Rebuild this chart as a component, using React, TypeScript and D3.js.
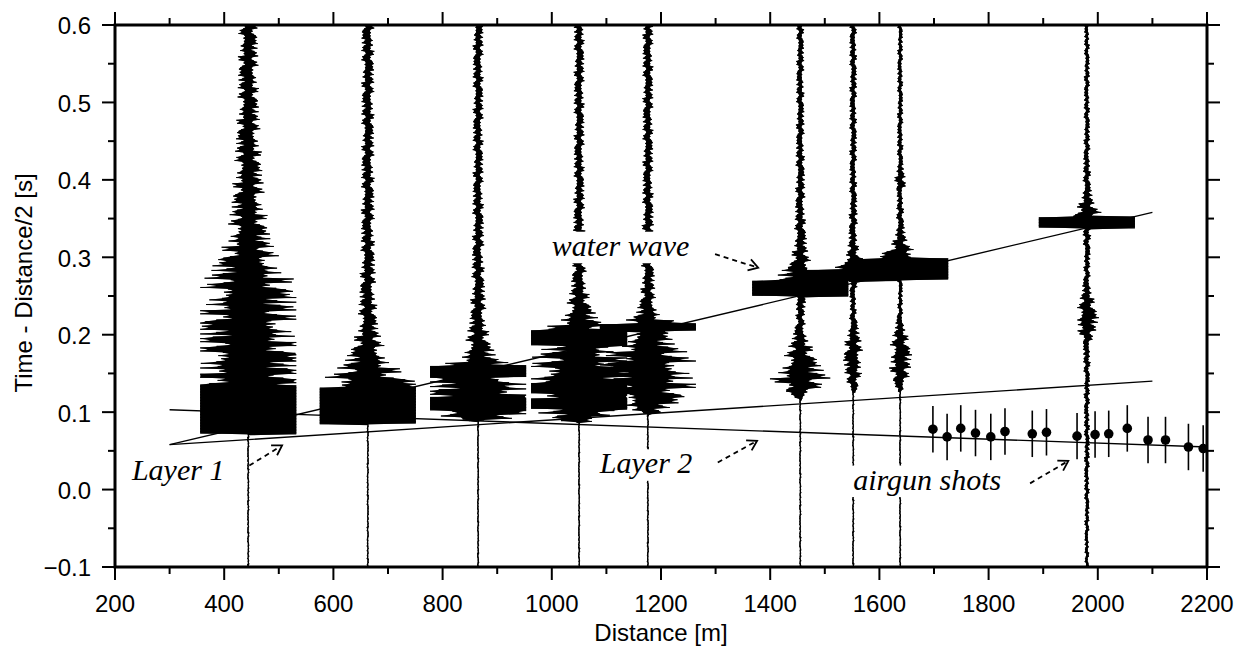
import React, { useLayoutEffect, useRef, useState } from "react";
import * as d3 from "d3";

const W = 1246;
const H = 653;
const M = { left: 115, right: 1207, top: 25, bottom: 567 };

// Axes
const X_DOMAIN = [200, 2200];
const Y_DOMAIN = [-0.1, 0.6];
const X_MAJOR = [200, 400, 600, 800, 1000, 1200, 1400, 1600, 1800, 2000, 2200];
const X_MINOR = [300, 500, 700, 900, 1100, 1300, 1500, 1700, 1900, 2100];
const Y_MAJOR = [-0.1, 0.0, 0.1, 0.2, 0.3, 0.4, 0.5, 0.6];
const Y_MINOR = [-0.05, 0.05, 0.15, 0.25, 0.35, 0.45, 0.55];
const X_TITLE = "Distance [m]";
const Y_TITLE = "Time - Distance/2 [s]";

// Receiver offsets (m) of the plotted seismograms
const traceDistances = [444, 663, 865, 1050, 1176, 1455, 1552, 1638, 1980];

// Amplitude envelopes: [reduced time (s), half amplitude (m)]
const trace444 = [[0.6, 18], [0.5, 20], [0.42, 26], [0.37, 32], [0.34, 38], [0.31, 50], [0.29, 68], [0.27, 85], [0.25, 95], [0.21, 105], [0.17, 115], [0.14, 125], [0.1345, 125], [0.134, 400], [0.072, 400], [0.0712, 2], [-0.1, 2]];
const trace663 = [[0.6, 12], [0.45, 12], [0.32, 13], [0.25, 16], [0.21, 20], [0.19, 28], [0.17, 42], [0.155, 60], [0.145, 80], [0.136, 110], [0.1325, 110], [0.132, 400], [0.085, 400], [0.0845, 2], [-0.1, 2]];
const trace865 = [[0.6, 10], [0.4, 10], [0.28, 12], [0.22, 16], [0.19, 24], [0.17, 38], [0.163, 60], [0.1605, 60], [0.16, 400], [0.145, 400], [0.1445, 70], [0.137, 120], [0.121, 120], [0.1195, 120], [0.119, 400], [0.102, 400], [0.1015, 110], [0.096, 100], [0.091, 60], [0.088, 2], [-0.1, 2]];
const trace1050 = [[0.6, 10], [0.4, 10], [0.3, 12], [0.26, 16], [0.235, 25], [0.22, 40], [0.21, 60], [0.2065, 60], [0.206, 400], [0.186, 400], [0.1855, 70], [0.17, 90], [0.155, 110], [0.143, 130], [0.1385, 130], [0.138, 400], [0.124, 400], [0.1235, 130], [0.1175, 130], [0.117, 400], [0.104, 400], [0.1035, 90], [0.098, 80], [0.09, 45], [0.086, 2], [-0.1, 2]];
const trace1176 = [[0.6, 10], [0.4, 10], [0.3, 12], [0.25, 14], [0.23, 22], [0.22, 35], [0.216, 60], [0.2145, 60], [0.214, 400], [0.205, 400], [0.2045, 40], [0.19, 50], [0.175, 80], [0.16, 100], [0.14, 105], [0.125, 85], [0.11, 55], [0.1, 28], [0.097, 2], [-0.1, 2]];
const trace1455 = [[0.6, 7], [0.45, 8], [0.35, 10], [0.31, 14], [0.29, 22], [0.278, 45], [0.2705, 45], [0.27, 400], [0.25, 400], [0.2495, 12], [0.22, 8], [0.2, 14], [0.18, 25], [0.16, 40], [0.145, 58], [0.135, 45], [0.125, 25], [0.118, 8], [0.115, 2], [-0.1, 2]];
const trace1552 = [[0.6, 7], [0.4, 7], [0.32, 9], [0.3, 14], [0.29, 45], [0.2835, 45], [0.283, 400], [0.27, 400], [0.2695, 8], [0.23, 6], [0.21, 10], [0.19, 16], [0.17, 20], [0.15, 16], [0.13, 9], [0.124, 2], [-0.1, 2]];
const trace1638 = [[0.6, 5], [0.42, 6], [0.395, 12], [0.385, 6], [0.34, 8], [0.32, 14], [0.31, 25], [0.302, 45], [0.2985, 45], [0.298, 400], [0.272, 400], [0.2715, 5], [0.23, 5], [0.21, 10], [0.19, 18], [0.175, 23], [0.16, 21], [0.145, 17], [0.13, 8], [0.125, 2], [-0.1, 2]];
const trace1980 = [[0.6, 5], [0.45, 6], [0.39, 8], [0.37, 14], [0.357, 28], [0.3525, 28], [0.352, 400], [0.338, 400], [0.3375, 8], [0.28, 6], [0.255, 10], [0.235, 18], [0.22, 24], [0.205, 17], [0.19, 8], [0.15, 6], [0.0, 5], [-0.1, 4]];
const traceEnvelopes = [trace444, trace663, trace865, trace1050, trace1176, trace1455, trace1552, trace1638, trace1980];

// Airgun shot picks with uncertainty
const shotDistances = [1698, 1724, 1749, 1776, 1804, 1830, 1880, 1906, 1962, 1995, 2020, 2054, 2092, 2124, 2166, 2193];
const shotTimes = [0.078, 0.068, 0.079, 0.073, 0.068, 0.075, 0.072, 0.074, 0.069, 0.071, 0.072, 0.079, 0.064, 0.064, 0.055, 0.053];
const shotErrors = [0.03, 0.03, 0.03, 0.03, 0.03, 0.03, 0.03, 0.03, 0.03, 0.03, 0.03, 0.03, 0.03, 0.03, 0.03, 0.03];

// Travel-time fits: [distance (m), reduced time (s)]
const waterWaveLine = [[300, 0.058], [2100, 0.358]];
const layer1Line = [[300, 0.058], [2100, 0.14]];
const layer2Line = [[300, 0.103], [2200, 0.055]];

// Annotations
const labelTexts = ["Layer 1", "water wave", "Layer 2", "airgun shots"];
const labelAt = [[231, 0.012], [1000, 0.302], [1088, 0.021], [1552, 0.0]];
const arrowFrom = [[446, 0.031], [1299, 0.304], [1304, 0.035], [1876, 0.008]];
const arrowTo = [[506, 0.057], [1378, 0.2865], [1376, 0.063], [1946, 0.037]];

// Wiggle rendering settings
const CLIP = 88; // clipping half-width of a trace, m
const DT = 0.001;
const TEX = [1.0, 0.38, 0.71, 0.29, 0.93, 0.52, 0.34, 0.86, 0.45, 0.66, 0.28, 0.98, 0.57, 0.41, 0.76, 0.31, 0.89, 0.48, 0.62, 0.3, 0.81, 0.43, 0.69, 0.36, 0.95, 0.5, 0.33, 0.74, 0.55, 0.4, 0.91, 0.47, 0.27, 0.79, 0.6, 0.35, 0.84, 0.44, 0.64, 0.32, 0.97];

const SANS = "'Liberation Sans', Arial, Helvetica, sans-serif";
const SERIF = "'Liberation Serif', 'Times New Roman', Times, serif";
const LABEL_SIZE = 30;

const x = d3.scaleLinear().domain(X_DOMAIN).range([M.left, M.right]);
const y = d3.scaleLinear().domain(Y_DOMAIN).range([M.bottom, M.top]);
const line = d3.line<number[]>().x((d) => d[0]).y((d) => d[1]);

// Zig-zag samples of a clipped trace; returns the outline (filled) and the wiggle itself.
function wiggle(center: number, env: number[][], offset: number) {
  const sorted = env.slice().sort((a, b) => a[0] - b[0]);
  const amp = d3
    .scaleLinear()
    .domain(sorted.map((p) => p[0]))
    .range(sorted.map((p) => p[1]))
    .clamp(true);
  const n = Math.round((Y_DOMAIN[1] - Y_DOMAIN[0]) / DT);
  const zig: number[][] = [];
  const right: number[][] = [];
  const left: number[][] = [];
  for (let i = 0; i <= n; i++) {
    const t = Y_DOMAIN[1] - i * DT;
    const a = Math.min(CLIP, amp(t) * TEX[(i + offset) % TEX.length]);
    const s = i % 2 === 0 ? 1 : -1;
    const p = [x(center + s * a), y(t)];
    zig.push(p);
    if (s > 0) right.push(p);
    else left.push(p);
  }
  const outline = right.concat(left.reverse());
  return { fill: (line(outline) || "") + "Z", stroke: line(zig) || "" };
}

function Label({ text, at }: { text: string; at: number[] }) {
  const ref = useRef<SVGTextElement>(null);
  const [w, setW] = useState(0);
  useLayoutEffect(() => {
    if (ref.current) setW(ref.current.getBBox().width);
  }, [text]);
  const px = x(at[0]);
  const py = y(at[1]);
  return (
    <g>
      {w > 0 && (
        <rect x={px - 4} y={py - LABEL_SIZE * 0.8} width={w + 8} height={LABEL_SIZE * 1.05} fill="white" />
      )}
      <text ref={ref} x={px} y={py} fontFamily={SERIF} fontStyle="italic" fontSize={LABEL_SIZE} fill="black">
        {text}
      </text>
    </g>
  );
}

function Arrow({ from, to }: { from: number[]; to: number[] }) {
  const x0 = x(from[0]);
  const y0 = y(from[1]);
  const x1 = x(to[0]);
  const y1 = y(to[1]);
  const ang = Math.atan2(y1 - y0, x1 - x0);
  const len = 11;
  const spread = 0.55;
  const a1 = [x1 - len * Math.cos(ang - spread), y1 - len * Math.sin(ang - spread)];
  const a2 = [x1 - len * Math.cos(ang + spread), y1 - len * Math.sin(ang + spread)];
  return (
    <g stroke="black" strokeWidth={1.8} fill="none">
      <line x1={x0} y1={y0} x2={x1 - 3 * Math.cos(ang)} y2={y1 - 3 * Math.sin(ang)} strokeDasharray="5 4" />
      <polyline points={`${a1[0]},${a1[1]} ${x1},${y1} ${a2[0]},${a2[1]}`} />
    </g>
  );
}

export default function App() {
  const fits = [waterWaveLine, layer1Line, layer2Line];
  const traces = traceDistances.map((d, i) => wiggle(d, traceEnvelopes[i], i * 7));
  return (
    <svg width={W} height={H} style={{ position: "absolute", left: 0, top: 0, background: "white" }}>
      <defs>
        <clipPath id="plot-area">
          <rect x={M.left} y={M.top} width={M.right - M.left} height={M.bottom - M.top} />
        </clipPath>
      </defs>
      <rect x={0} y={0} width={W} height={H} fill="white" />

      <g clipPath="url(#plot-area)">
        {traces.map((tr, i) => (
          <g key={traceDistances[i]}>
            <path d={tr.fill} fill="black" stroke="none" />
            <path d={tr.stroke} fill="none" stroke="black" strokeWidth={0.9} />
          </g>
        ))}

        {labelTexts.map((t, i) => (
          <Label key={t} text={t} at={labelAt[i]} />
        ))}
        {labelTexts.map((t, i) => (
          <Arrow key={t} from={arrowFrom[i]} to={arrowTo[i]} />
        ))}

        {fits.map((f, i) => (
          <path
            key={i}
            d={line(f.map((p) => [x(p[0]), y(p[1])])) || ""}
            fill="none"
            stroke="black"
            strokeWidth={1.4}
          />
        ))}

        {shotDistances.map((d, i) => (
          <g key={d}>
            <line
              x1={x(d)}
              x2={x(d)}
              y1={y(shotTimes[i] - shotErrors[i])}
              y2={y(shotTimes[i] + shotErrors[i])}
              stroke="black"
              strokeWidth={1.6}
            />
            <circle cx={x(d)} cy={y(shotTimes[i])} r={4.8} fill="black" />
          </g>
        ))}
      </g>

      {/* ticks, outward on all four sides */}
      <g stroke="black" strokeWidth={2}>
        {X_MAJOR.map((v) => (
          <g key={"xM" + v}>
            <line x1={x(v)} x2={x(v)} y1={M.bottom} y2={M.bottom + 13} />
            <line x1={x(v)} x2={x(v)} y1={M.top} y2={M.top - 13} />
          </g>
        ))}
        {X_MINOR.map((v) => (
          <g key={"xm" + v}>
            <line x1={x(v)} x2={x(v)} y1={M.bottom} y2={M.bottom + 7} />
            <line x1={x(v)} x2={x(v)} y1={M.top} y2={M.top - 7} />
          </g>
        ))}
        {Y_MAJOR.map((v) => (
          <g key={"yM" + v}>
            <line x1={M.left} x2={M.left - 13} y1={y(v)} y2={y(v)} />
            <line x1={M.right} x2={M.right + 13} y1={y(v)} y2={y(v)} />
          </g>
        ))}
        {Y_MINOR.map((v) => (
          <g key={"ym" + v}>
            <line x1={M.left} x2={M.left - 7} y1={y(v)} y2={y(v)} />
            <line x1={M.right} x2={M.right + 7} y1={y(v)} y2={y(v)} />
          </g>
        ))}
      </g>

      <rect
        x={M.left}
        y={M.top}
        width={M.right - M.left}
        height={M.bottom - M.top}
        fill="none"
        stroke="black"
        strokeWidth={3}
      />

      <g fontFamily={SANS} fontSize={24} fill="black">
        {X_MAJOR.map((v) => (
          <text key={"xl" + v} x={x(v)} y={M.bottom + 45} textAnchor="middle">
            {v}
          </text>
        ))}
        {Y_MAJOR.map((v) => (
          <text key={"yl" + v} x={91} y={y(v) + 9.4} textAnchor="end">
            {d3.format(".1f")(v)}
          </text>
        ))}
        <text x={(M.left + M.right) / 2} y={641} textAnchor="middle">
          {X_TITLE}
        </text>
        <text transform="translate(32,283) rotate(-90)" textAnchor="middle">
          {Y_TITLE}
        </text>
      </g>
    </svg>
  );
}
